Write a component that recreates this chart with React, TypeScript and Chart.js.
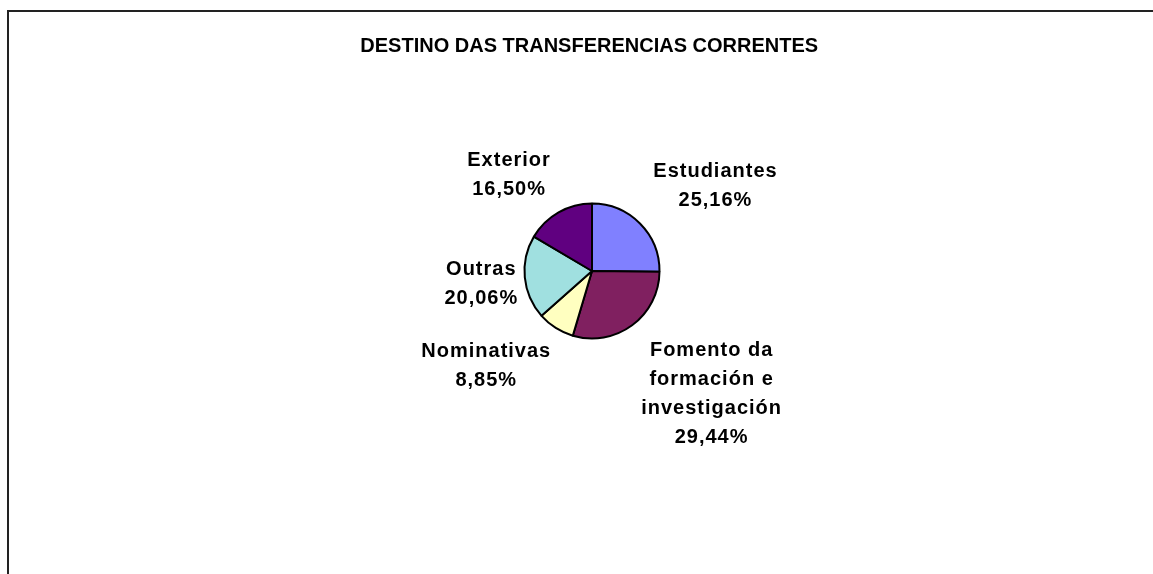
import React, { useEffect, useRef } from "react";
import { Chart, registerables } from "chart.js";

Chart.register(...registerables);

const categoryLines: string[][] = [
  ["Estudiantes"],
  ["Fomento da", "formación e", "investigación"],
  ["Nominativas"],
  ["Outras"],
  ["Exterior"],
];
const shares: number[] = [25.16, 29.44, 8.85, 20.06, 16.5];
const sliceColors: string[] = ["#8080FF", "#802060", "#FFFFC0", "#A0E0E0", "#600080"];
// label block offsets (px) from the slice's mid-angle point on the rim
const labelNudges: [number, number][] = [
  [75, -38],
  [79, 69],
  [-70, 38],
  [-44, 7],
  [-50, -37],
];

const FONT = '"Liberation Sans", Arial, sans-serif';

const pctText = (v: number) => v.toFixed(2).replace(".", ",") + "%";

const labelPlugin = {
  id: "excelLabels",
  afterDatasetsDraw(chart: any) {
    const ctx = chart.ctx as CanvasRenderingContext2D;
    const meta = chart.getDatasetMeta(0);
    ctx.save();
    ctx.fillStyle = "#000";
    ctx.font = `bold 20px ${FONT}`;
    ctx.textAlign = "center";
    ctx.textBaseline = "middle";
    try {
      (ctx as any).letterSpacing = "1px";
    } catch (e) {}
    const lineGap = 29;
    meta.data.forEach((arc: any, i: number) => {
      const p = arc.getProps(["x", "y", "startAngle", "endAngle", "outerRadius"], true);
      const mid = (p.startAngle + p.endAngle) / 2;
      const ax = p.x + Math.cos(mid) * p.outerRadius;
      const ay = p.y + Math.sin(mid) * p.outerRadius;
      const cx = ax + labelNudges[i][0];
      const cy = ay + labelNudges[i][1];
      const lines = [...categoryLines[i], pctText(shares[i])];
      const n = lines.length;
      lines.forEach((t, k) => {
        ctx.fillText(t, cx + 0.5, cy + (k - (n - 1) / 2) * lineGap);
      });
    });
    ctx.restore();
  },
};

export default function App() {
  const ref = useRef<HTMLCanvasElement | null>(null);
  useEffect(() => {
    if (!ref.current) return;
    const chart = new Chart(ref.current, {
      type: "pie",
      data: {
        labels: categoryLines.map((l) => l.join(" ")),
        datasets: [
          {
            data: shares,
            backgroundColor: sliceColors,
            borderColor: "#000000",
            borderWidth: 2,
          },
        ],
      },
      options: {
        responsive: false,
        animation: false,
        radius: 67.5,
        layout: { padding: { left: 31, right: 0, top: 0, bottom: 98 } },
        plugins: {
          legend: { display: false },
          tooltip: { enabled: false },
          title: {
            display: true,
            text: "DESTINO DAS TRANSFERENCIAS CORRENTES ",
            color: "#000",
            font: { family: FONT, size: 20, weight: "bold", lineHeight: 1.2 },
            padding: { top: 34, bottom: 8 },
          },
        },
      } as any,
      plugins: [labelPlugin],
    });
    return () => chart.destroy();
  }, []);

  return (
    <>
      <canvas
        ref={ref}
        width={1153}
        height={574}
        style={{ position: "fixed", left: 0, top: 0, display: "block", background: "#fff" }}
      />
      <div
        style={{
          position: "fixed",
          left: 7,
          top: 10,
          width: 1146,
          height: 564,
          boxSizing: "border-box",
          borderLeft: "2px solid #222",
          borderTop: "2px solid #222",
          pointerEvents: "none",
        }}
      />
    </>
  );
}
